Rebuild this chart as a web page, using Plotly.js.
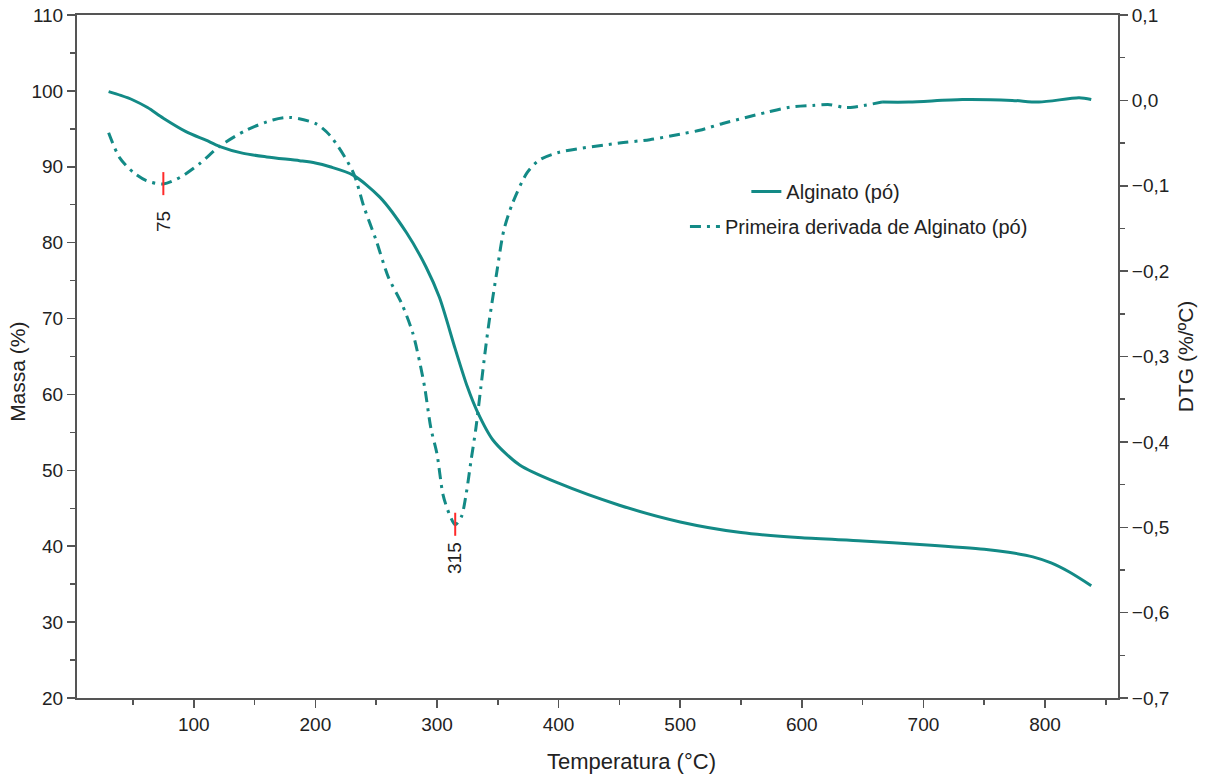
<!DOCTYPE html>
<html>
<head>
<meta charset="utf-8">
<script src="https://cdn.plot.ly/plotly-3.0.1.min.js"></script>
<style>html,body{margin:0;padding:0;background:#fff;}#chart{width:1206px;height:775px;}</style>
</head>
<body>
<div id="chart"></div>
<script>
// TG curve: temperature (°C) and mass (%)
const T_tg = [30, 40, 50, 62, 75, 94, 110, 121, 140, 160, 187, 200, 212, 231, 253, 275, 291, 302, 315, 325, 333, 346, 368, 400, 450, 500, 550, 600, 650, 700, 750, 770, 790, 805, 820, 838];
const mass = [99.9, 99.4, 98.8, 97.8, 96.4, 94.6, 93.5, 92.7, 91.8, 91.3, 90.8, 90.5, 90.0, 88.9, 86.0, 81.3, 76.8, 72.8, 66.0, 61.0, 57.8, 54.0, 50.7, 48.3, 45.4, 43.2, 41.8, 41.1, 40.7, 40.2, 39.6, 39.2, 38.6, 37.8, 36.6, 34.8];

// DTG curve: temperature (°C) and derivative (%/°C)
const T_dtg = [30, 39, 50, 61, 75, 89, 105, 121, 143, 165, 179, 200, 212, 231, 240, 250, 260, 271, 280, 286, 290, 295, 300, 305, 310, 315, 320, 324, 328, 332, 336, 340, 343, 349, 355, 362, 374, 384, 400, 450, 475, 502, 516, 535, 554, 571, 590, 609, 623, 634, 642, 666, 688, 732, 773, 795, 828, 838];
const dtg = [-0.038, -0.067, -0.084, -0.094, -0.098, -0.090, -0.074, -0.054, -0.035, -0.023, -0.020, -0.027, -0.041, -0.084, -0.125, -0.164, -0.207, -0.238, -0.272, -0.308, -0.337, -0.384, -0.414, -0.462, -0.484, -0.497, -0.488, -0.461, -0.422, -0.384, -0.337, -0.290, -0.258, -0.203, -0.152, -0.121, -0.085, -0.070, -0.061, -0.050, -0.046, -0.039, -0.035, -0.027, -0.020, -0.014, -0.008, -0.006, -0.005, -0.008, -0.008, -0.002, -0.002, 0.001, 0.000, -0.002, 0.003, 0.001];

// Peak markers
const peakT = [75, 315];
const peakDTG = [-0.098, -0.497];
const peakLabels = ['75', '315'];

const xTicks = [100, 200, 300, 400, 500, 600, 700, 800];
const splitT = 666;

const teal = '#138a86';
const axisCol = '#555555';
const font = 'Liberation Sans, Arial, sans-serif';
const labelGap = [14, 4];

const dIdx = T_dtg.map((t, i) => i);
const dashIdx = dIdx.filter(i => T_dtg[i] <= splitT);
const solIdx = dIdx.filter(i => T_dtg[i] >= splitT);

const traces = [
  {x: T_tg, y: mass, type: 'scatter', mode: 'lines', name: 'Alginato (pó)',
   line: {color: teal, width: 3, shape: 'spline', smoothing: 0.8}, legend: 'legend'},
  {x: dashIdx.map(i => T_dtg[i]), y: dashIdx.map(i => dtg[i]), type: 'scatter', mode: 'lines',
   name: 'Primeira derivada de Alginato (pó)', yaxis: 'y2',
   line: {color: teal, width: 3, dash: '11px,6px,3px,6px', shape: 'spline', smoothing: 0.8}, legend: 'legend2'},
  {x: solIdx.map(i => T_dtg[i]), y: solIdx.map(i => dtg[i]), type: 'scatter', mode: 'lines',
   showlegend: false, yaxis: 'y2',
   line: {color: teal, width: 3, shape: 'spline', smoothing: 0.8}}
];

const shapes = peakT.map((t, i) => ({
  type: 'line', xref: 'x', yref: 'y2', x0: t, x1: t,
  y0: peakDTG[i] + 0.014, y1: peakDTG[i] - 0.013,
  line: {color: '#ff2a2a', width: 2}
}));

const annotations = peakT.map((t, i) => ({
  xref: 'x', yref: 'y2', x: t, y: peakDTG[i] - 0.013, yanchor: 'top', xanchor: 'center',
  yshift: -labelGap[i],
  text: peakLabels[i], textangle: -90, showarrow: false,
  font: {family: font, size: 19, color: '#222'}
}));
annotations.push(
  {xref: 'paper', yref: 'paper', x: 0.533, y: -0.072, xanchor: 'center', yanchor: 'top',
   text: 'Temperatura (°C)', showarrow: false, font: {family: font, size: 22, color: '#222'}},
  {xref: 'paper', yref: 'paper', x: -0.057, y: 0.477, xanchor: 'center', yanchor: 'middle', textangle: -90,
   text: 'Massa (%)', showarrow: false, font: {family: font, size: 21, color: '#222'}},
  {xref: 'paper', yref: 'paper', x: 1.065, y: 0.5, xanchor: 'center', yanchor: 'middle', textangle: -90,
   text: 'DTG (%/ºC)', showarrow: false, font: {family: font, size: 21, color: '#222'}}
);

const layout = {
  width: 1206, height: 775,
  margin: {l: 77, r: 88, t: 15, b: 77},
  paper_bgcolor: '#fff', plot_bgcolor: '#fff',
  font: {family: font, size: 19, color: '#222'},
  separators: ',.',
  xaxis: {range: [4, 860], tickvals: xTicks, ticks: 'outside', ticklen: 8, tickwidth: 1.5, tickcolor: axisCol,
          showline: true, linecolor: axisCol, linewidth: 2, mirror: true, showgrid: false, zeroline: false,
          minor: {dtick: 50, tick0: 0, ticks: 'outside', ticklen: 5, tickwidth: 1.5, tickcolor: axisCol},
          tickfont: {family: font, size: 19, color: '#222'}},
  yaxis: {range: [20, 110], dtick: 10, tick0: 0, ticks: 'outside', ticklen: 8, tickwidth: 1.5, tickcolor: axisCol,
          showline: true, linecolor: axisCol, linewidth: 2, mirror: true, showgrid: false, zeroline: false,
          minor: {dtick: 5, ticks: 'outside', ticklen: 5, tickwidth: 1.5, tickcolor: axisCol},
          tickfont: {family: font, size: 19, color: '#222'}},
  yaxis2: {range: [-0.7, 0.1], dtick: 0.1, tick0: 0, tickformat: '.1f', overlaying: 'y', side: 'right',
           ticks: 'outside', ticklen: 8, tickwidth: 1.5, tickcolor: axisCol,
           showline: true, linecolor: axisCol, linewidth: 2, showgrid: false, zeroline: false,
           minor: {dtick: 0.05, ticks: 'outside', ticklen: 5, tickwidth: 1.5, tickcolor: axisCol},
           tickfont: {family: font, size: 19, color: '#222'}},
  legend: {x: 0.643, y: 0.770, xanchor: 'left', yanchor: 'top', bgcolor: 'rgba(0,0,0,0)',
           font: {family: font, size: 20, color: '#222'}},
  legend2: {x: 0.584, y: 0.719, xanchor: 'left', yanchor: 'top', bgcolor: 'rgba(0,0,0,0)',
           font: {family: font, size: 20, color: '#222'}},
  shapes: shapes,
  annotations: annotations,
  showlegend: true
};

Plotly.newPlot('chart', traces, layout, {displayModeBar: false, staticPlot: true});
</script>
</body>
</html>
